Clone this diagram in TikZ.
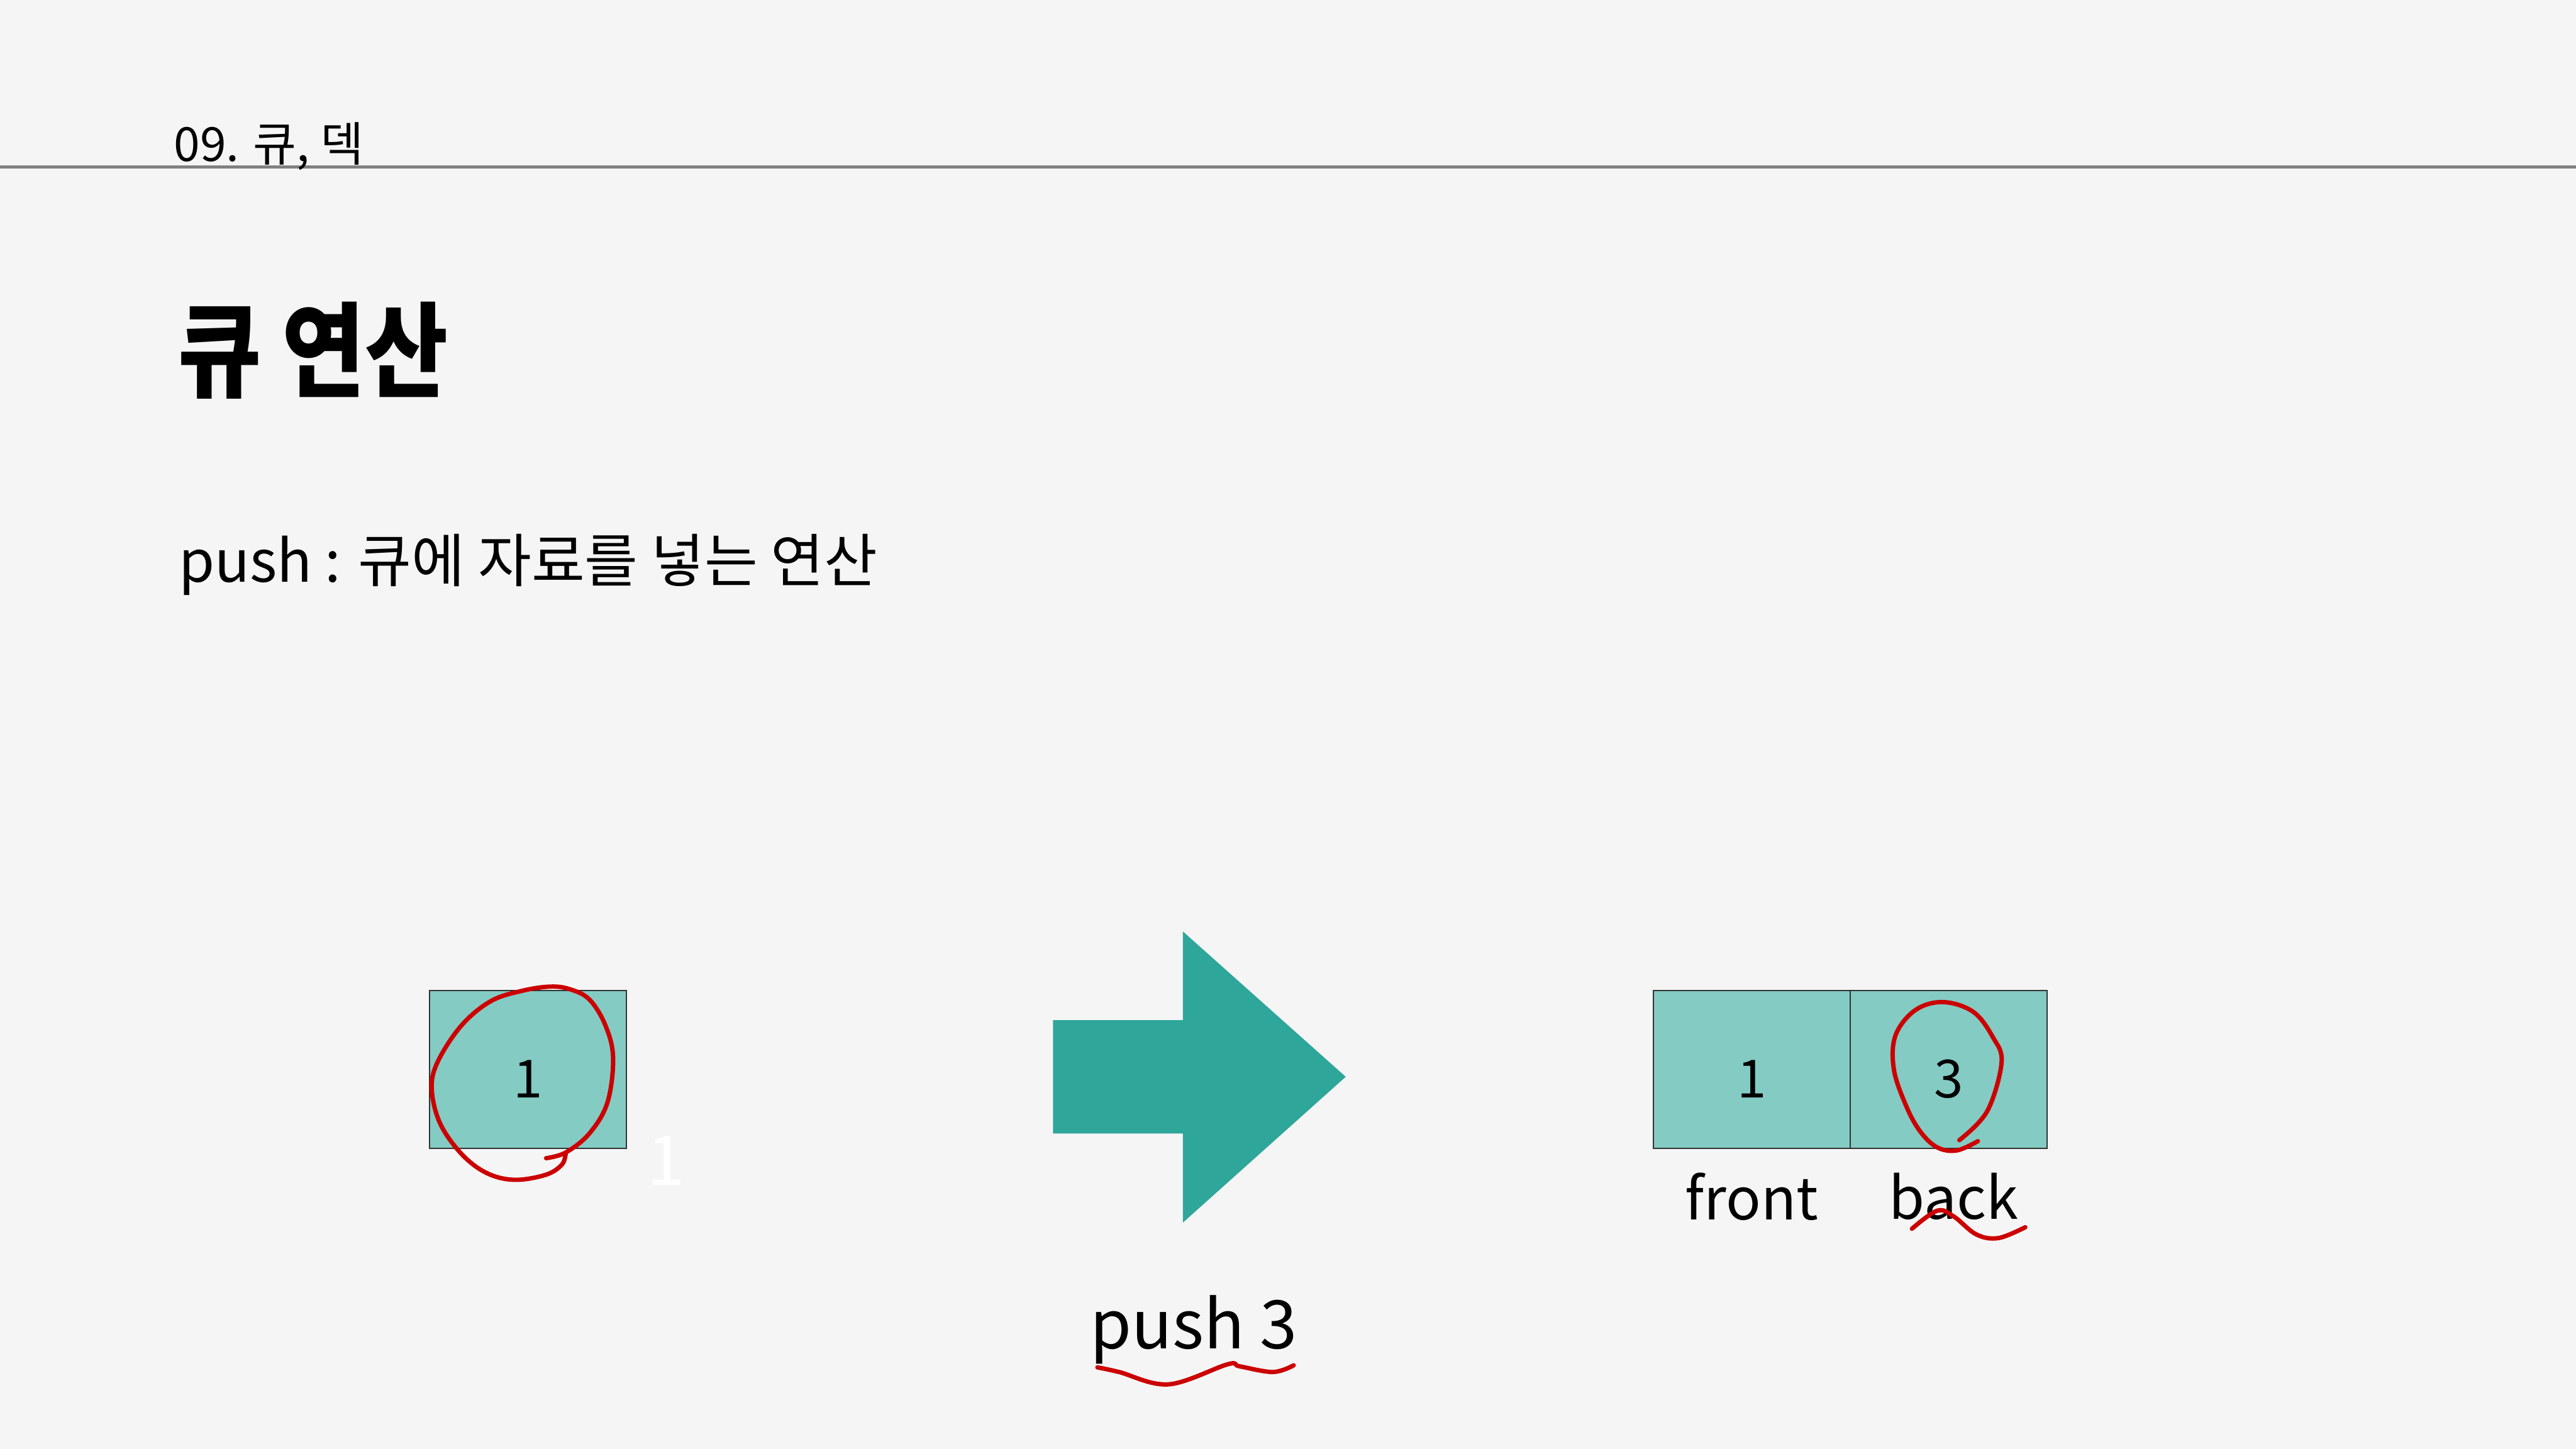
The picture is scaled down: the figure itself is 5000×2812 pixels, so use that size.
\documentclass[tikz,border=0pt]{standalone}
\usepackage{fontspec}
\setmainfont{Noto Sans CJK KR}
\usetikzlibrary{positioning}
\definecolor{qbg}{HTML}{F5F5F5}
\definecolor{qcell}{HTML}{84CBC4}
\definecolor{qarrow}{HTML}{2EA69A}
\definecolor{qline}{HTML}{808080}
\definecolor{qpen}{HTML}{CC0000}
\newcommand{\fsz}[1]{\fontsize{#1}{#1}\selectfont}

\begin{document}
\begin{tikzpicture}[
  x=0.01cm, y=-0.01cm,
  txt/.style={inner sep=0pt, anchor=base west},
  cell/.style={draw=black!80, line width=0.8pt, fill=qcell, minimum width=3.82cm,
               minimum height=3.06cm, inner sep=0pt, outer sep=0pt,
               text height=1.1cm, text depth=0pt, font=\fsz{29pt}},
  tag/.style={inner sep=0pt, font=\fsz{32pt}},
  redpen/.style={draw=qpen, line width=0.085cm, line cap=round, line join=round}
]
  \fill[qbg] (0,0) rectangle (5000,2812);
  \useasboundingbox (0,0) rectangle (5000,2812);
  \draw[qline, line width=0.06cm] (0,324) -- (5000,324);

  \node[txt, font=\fsz{26pt}] (chapter) at (337,313) {09. 큐, 덱};
  \node[txt, font={\fsz{57pt}\bfseries}] (title) at (345,755) {\scalebox{0.875}[1]{큐 연산}};
  \node[txt, font=\fsz{32pt}] (desc) at (346,1130) {push : 큐에 자료를 넣는 연산};

  % before push
  \node[cell] (old) at (1025,2076) {1};
  \node[inner sep=0pt, anchor=base, text=white, font=\fsz{38pt}] (ghost) at (1292,2300) {1};

  % big arrow
  \fill[qarrow] (2044,1980) -- (2296,1980) -- (2296,1808) -- (2612,2090)
    -- (2296,2373) -- (2296,2200) -- (2044,2200) -- cycle;
  \node[tag, anchor=base, font=\fsz{37pt}] (op) at (2317,2618) {push 3};

  % after push
  \node[cell] (front) at (3400,2076) {1};
  \node[cell, right=0pt of front] (back) {3};
  \node[tag, below=0.47cm of front] (frontlbl) {front};
  \node[tag, below=0.47cm of back, xshift=0.1cm] (backlbl) {back};

  % pen marks
  \draw[redpen] plot[smooth, tension=0.6] coordinates {(1060,2248) (1098,2237)
    (1144,2200) (1179,2140) (1190,2053) (1175,1990) (1144,1940) (1106,1920)
    (1068,1915) (1014,1923) (953,1943) (896,1990) (850,2060) (838,2113)
    (854,2180) (896,2240) (945,2277) (999,2290) (1060,2280) (1091,2260) (1098,2238)};
  \draw[redpen] plot[smooth, tension=0.6] coordinates {(3803,2213) (3857,2157)
    (3885,2062) (3868,2013) (3830,1964) (3771,1945) (3717,1961) (3679,2010)
    (3676,2076) (3700,2147) (3727,2196) (3760,2227) (3798,2233) (3839,2215)};
  \draw[redpen] plot[smooth, tension=0.6] coordinates {(3711,2385) (3760,2350)
    (3792,2361) (3836,2396) (3879,2403) (3931,2382)};
  \draw[redpen] plot[smooth, tension=0.6] coordinates {(2130,2654) (2172,2663)
    (2268,2687) (2383,2648) (2406,2652) (2471,2663) (2511,2650)};
\end{tikzpicture}
\end{document}
